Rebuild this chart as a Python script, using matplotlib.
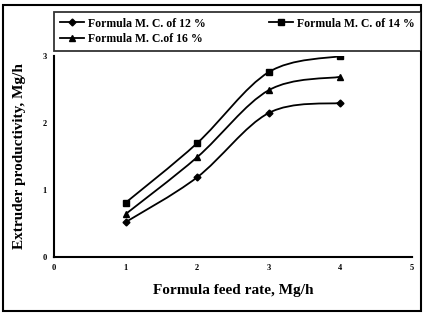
import numpy as np
import matplotlib
matplotlib.use("Agg")
import matplotlib.pyplot as plt
from matplotlib.path import Path
from matplotlib.patches import PathPatch, Rectangle
from matplotlib.lines import Line2D

feed_rate = [1, 2, 3, 4]
mc12 = [0.52, 1.19, 2.15, 2.30]
mc14 = [0.81, 1.70, 2.76, 3.00]
mc16 = [0.64, 1.49, 2.49, 2.69]
labels = ["Formula M. C. of 12 %", "Formula M. C. of 14 %", "Formula M. C.of 16 %"]
markers = ["D", "s", "^"]
x_ticks = [0, 1, 2, 3, 4, 5]
y_ticks = [0, 1, 2, 3]

plt.rcParams['font.family'] = ['Liberation Serif', 'DejaVu Serif']
plt.rcParams['font.weight'] = 'bold'

W, H = 423, 313
fig = plt.figure(figsize=(W / 100, H / 100), dpi=100)
ax = fig.add_axes([54 / W, (H - 257) / H, (412 - 54) / W, (257 - 56) / H])


def smooth_path(xs, ys):
    pts = np.column_stack([xs, ys]).astype(float)
    n = len(pts)
    verts = [pts[0]]
    codes = [Path.MOVETO]
    for i in range(n - 1):
        p0 = pts[max(i - 1, 0)]
        p1 = pts[i]
        p2 = pts[i + 1]
        p3 = pts[min(i + 2, n - 1)]
        c1 = p1 + (p2 - p0) / 6.0
        c2 = p2 - (p3 - p1) / 6.0
        verts += [c1, c2, p2]
        codes += [Path.CURVE4] * 3
    return Path(verts, codes)


def msize(m):
    return 3.5 if m == 'D' else 4.5


for ys, m in zip([mc12, mc14, mc16], markers):
    ax.add_patch(PathPatch(smooth_path(feed_rate, ys), facecolor='none',
                           edgecolor='black', lw=1.3))
    ax.plot(feed_rate, ys, linestyle='none', marker=m, color='black',
            markersize=msize(m))

ax.set_xlim(0, 5)
ax.set_ylim(0, 3)
ax.set_xticks(x_ticks)
ax.set_yticks(y_ticks)
ax.tick_params(labelsize=6, length=2, width=1.5, direction='inout', pad=4)
for s in ['top', 'right']:
    ax.spines[s].set_visible(False)
for s in ['left', 'bottom']:
    ax.spines[s].set_linewidth(1.5)

ax.set_xlabel("Formula feed rate, Mg/h", fontsize=11, fontweight='bold', labelpad=9)
ax.set_ylabel("Extruder productivity, Mg/h", fontsize=11, fontweight='bold', labelpad=12)

order = [0, 2, 1]
handles = [Line2D([0], [0], color='black', lw=1.3, marker=markers[i],
                  markersize=msize(markers[i])) for i in order]
leg = fig.legend(handles, [labels[i] for i in order], ncol=2, loc='upper left',
                 bbox_to_anchor=(54 / W, (H - 12) / H, (421 - 54) / W, 0.001),
                 mode='expand', fontsize=8.5, frameon=True, fancybox=False,
                 edgecolor='black', handlelength=2.0, handletextpad=0.4,
                 borderpad=0.5, labelspacing=0.3, columnspacing=1.0,
                 borderaxespad=0)
leg.get_frame().set_linewidth(1.3)
for t in leg.get_texts():
    t.set_fontweight('bold')

fig.patches.append(Rectangle((3 / W, 2 / H), (421 - 3) / W, (306) / H,
                             transform=fig.transFigure, fill=False,
                             edgecolor='black', lw=1.5))

fig.savefig("out.png", dpi=100)
